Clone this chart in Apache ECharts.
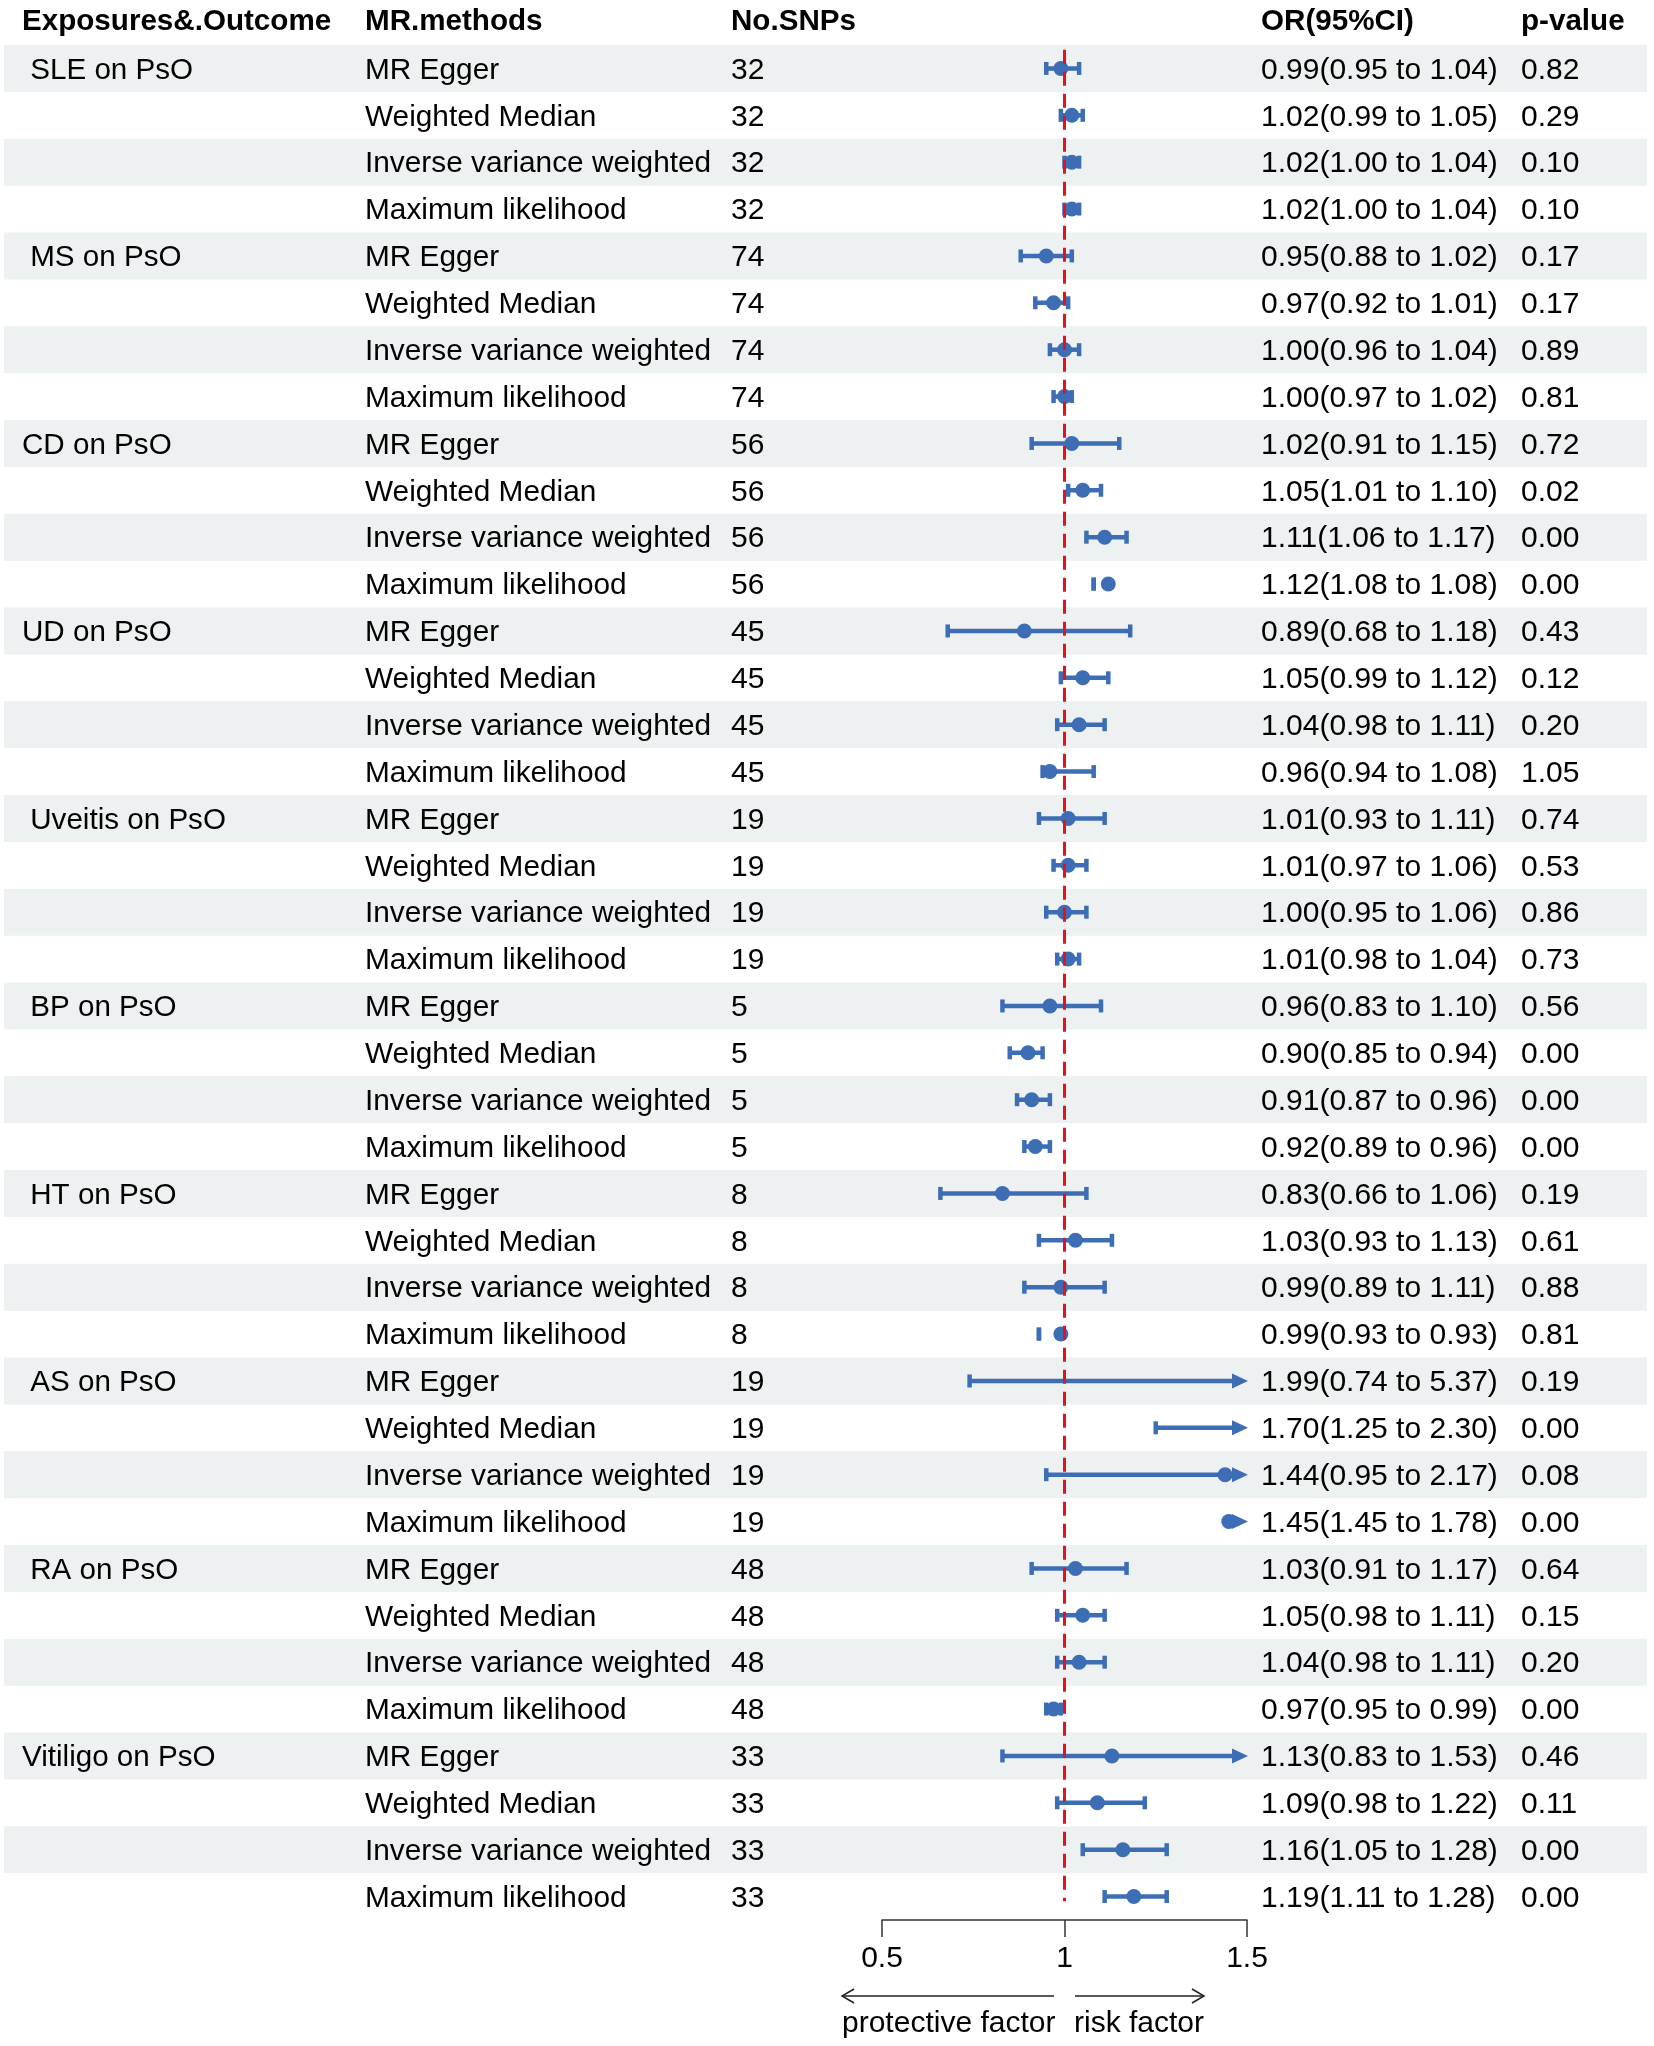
<!DOCTYPE html>
<html>
<head>
<meta charset="utf-8">
<title>MR forest plot</title>
<script src="https://cdn.jsdelivr.net/npm/echarts@6/dist/echarts.min.js"></script>
<style>
  html, body { margin: 0; padding: 0; background: #fff; }
  #main { width: 1654px; height: 2046px; }
</style>
</head>
<body>
<div id="main"></div>
<script>
// 数据
var exposures = [' SLE on PsO', ' MS on PsO', 'CD on PsO', 'UD on PsO', ' Uveitis on PsO',
                 ' BP on PsO', ' HT on PsO', ' AS on PsO', ' RA on PsO', 'Vitiligo on PsO'];
var methods = ['MR Egger', 'Weighted Median', 'Inverse variance weighted', 'Maximum likelihood'];
var nSnps = [32, 74, 56, 45, 19, 5, 8, 19, 48, 33];

var orVals = [0.99, 1.02, 1.02, 1.02,  0.95, 0.97, 1.00, 1.00,  1.02, 1.05, 1.11, 1.12,
              0.89, 1.05, 1.04, 0.96,  1.01, 1.01, 1.00, 1.01,  0.96, 0.90, 0.91, 0.92,
              0.83, 1.03, 0.99, 0.99,  1.99, 1.70, 1.44, 1.45,  1.03, 1.05, 1.04, 0.97,
              1.13, 1.09, 1.16, 1.19];
var loVals = [0.95, 0.99, 1.00, 1.00,  0.88, 0.92, 0.96, 0.97,  0.91, 1.01, 1.06, 1.08,
              0.68, 0.99, 0.98, 0.94,  0.93, 0.97, 0.95, 0.98,  0.83, 0.85, 0.87, 0.89,
              0.66, 0.93, 0.89, 0.93,  0.74, 1.25, 0.95, 1.45,  0.91, 0.98, 0.98, 0.95,
              0.83, 0.98, 1.05, 1.11];
var hiVals = [1.04, 1.05, 1.04, 1.04,  1.02, 1.01, 1.04, 1.02,  1.15, 1.10, 1.17, 1.08,
              1.18, 1.12, 1.11, 1.08,  1.11, 1.06, 1.06, 1.04,  1.10, 0.94, 0.96, 0.96,
              1.06, 1.13, 1.11, 0.93,  5.37, 2.30, 2.17, 1.78,  1.17, 1.11, 1.11, 0.99,
              1.53, 1.22, 1.28, 1.28];
var pVals = [0.82, 0.29, 0.10, 0.10,  0.17, 0.17, 0.89, 0.81,  0.72, 0.02, 0.00, 0.00,
             0.43, 0.12, 0.20, 1.05,  0.74, 0.53, 0.86, 0.73,  0.56, 0.00, 0.00, 0.00,
             0.19, 0.61, 0.88, 0.81,  0.19, 0.00, 0.08, 0.00,  0.64, 0.15, 0.20, 0.00,
             0.46, 0.11, 0.00, 0.00];
var xTicks = ['0.5', '1', '1.5'];

var FONT = '"Liberation Sans", Arial, Helvetica, sans-serif';
var BLUE = '#3d6db4';
var nRows = exposures.length * methods.length;
var xMin = 0.5, xMax = 1.5;

// 每行数据
var rows = [];
for (var i = 0; i < nRows; i++) {
  rows.push([i, orVals[i], loVals[i], hiVals[i]]);
}

function txt(x, y, s, size) {
  return {
    type: 'text',
    style: {
      x: x, y: y + 2, text: s, fill: '#000',
      font: size + 'px ' + FONT,
      align: 'left', verticalAlign: 'middle'
    }
  };
}

// 背景条纹和表格文字
function renderTable(params, api) {
  var i = api.value(0);
  var top = api.coord([0, i - 0.5])[1];
  var bot = api.coord([0, i + 0.5])[1];
  var y = api.coord([0, i])[1];
  var g = Math.floor(i / methods.length);
  var m = i % methods.length;
  var children = [];
  if (i % 2 === 0) {
    var x0 = api.coord([4, i])[0], x1 = api.coord([1647, i])[0];
    children.push({
      type: 'rect',
      shape: { x: x0, y: top, width: x1 - x0, height: bot - top },
      style: { fill: '#eef1f1' }
    });
  }
  if (m === 0) children.push(txt(api.coord([22, i])[0], y, exposures[g], 29.6));
  children.push(txt(api.coord([365, i])[0], y, methods[m], 29.8));
  children.push(txt(api.coord([731, i])[0], y, String(nSnps[g]), 30));
  children.push(txt(api.coord([1261, i])[0], y,
    orVals[i].toFixed(2) + '(' + loVals[i].toFixed(2) + ' to ' + hiVals[i].toFixed(2) + ')', 30));
  children.push(txt(api.coord([1521, i])[0], y, pVals[i].toFixed(2), 30));
  return { type: 'group', children: children };
}

// 置信区间
function renderCI(params, api) {
  var i = api.value(0), or = api.value(1), lo = api.value(2), hi = api.value(3);
  var y = api.coord([1, i])[1];
  var xl = api.coord([Math.max(lo, xMin), i])[0];
  var xr = api.coord([Math.min(hi, xMax), i])[0];
  var children = [];
  var lineEnd = hi > xMax ? xr - 14 : xr;
  var st = { stroke: BLUE, lineWidth: 4.5 };
  if (lineEnd > xl) {
    children.push({ type: 'line', shape: { x1: xl, y1: y, x2: lineEnd, y2: y }, style: st });
  }
  if (lo >= xMin) {
    children.push({ type: 'line', shape: { x1: xl, y1: y - 6.5, x2: xl, y2: y + 6.5 }, style: st });
  }
  if (hi <= xMax) {
    children.push({ type: 'line', shape: { x1: xr, y1: y - 6.5, x2: xr, y2: y + 6.5 }, style: st });
  } else {
    children.push({
      type: 'polygon',
      shape: { points: [[xr + 1, y], [xr - 15, y - 7.5], [xr - 15, y + 7.5]] },
      style: { fill: BLUE }
    });
  }
  if (or >= xMin && or <= xMax) {
    children.push({ type: 'circle', shape: { cx: api.coord([or, i])[0], cy: y, r: 7.5 }, style: { fill: BLUE } });
  }
  return { type: 'group', children: children };
}

var myChart = echarts.init(document.getElementById('main'));

var headFont = 'bold 29.6px ' + FONT;

var option = {
  animation: false,
  backgroundColor: '#fff',
  grid: [
    { left: 882, top: 45, width: 365, height: 1875 },
    { left: 0, top: 45, width: 1654, height: 1875 }
  ],
  xAxis: [
    {
      gridIndex: 0, type: 'value', min: xMin, max: xMax, interval: 0.5,
      splitLine: { show: false },
      axisLine: { show: true, onZero: false, lineStyle: { color: '#333', width: 1.5 } },
      axisTick: { show: true, length: 17, lineStyle: { color: '#333', width: 1.5 } },
      axisLabel: {
        fontSize: 30, fontFamily: FONT, color: '#000', margin: 24,
        formatter: function (v) { return xTicks[Math.round((v - xMin) / 0.5)]; }
      }
    },
    { gridIndex: 1, type: 'value', min: 0, max: 1654, show: false }
  ],
  yAxis: [
    { gridIndex: 0, type: 'value', inverse: true, min: -0.5, max: nRows - 0.5, show: false },
    { gridIndex: 1, type: 'value', inverse: true, min: -0.5, max: nRows - 0.5, show: false }
  ],
  graphic: [
    { type: 'text', left: 22, top: 7, style: { text: 'Exposures&.Outcome', font: headFont, fill: '#000' } },
    { type: 'text', left: 365, top: 7, style: { text: 'MR.methods', font: headFont, fill: '#000' } },
    { type: 'text', left: 731, top: 7, style: { text: 'No.SNPs', font: headFont, fill: '#000' } },
    { type: 'text', left: 1261, top: 7, style: { text: 'OR(95%CI)', font: headFont, fill: '#000' } },
    { type: 'text', left: 1521, top: 7, style: { text: 'p-value', font: headFont, fill: '#000' } },
    // 底部箭头
    { type: 'polyline', shape: { points: [[1054, 1996], [842, 1996]] }, style: { stroke: '#222', lineWidth: 1.5 } },
    { type: 'polyline', shape: { points: [[854, 1989], [842, 1996], [854, 2003]] }, style: { stroke: '#222', lineWidth: 1.5, fill: null } },
    { type: 'polyline', shape: { points: [[1075, 1996], [1204, 1996]] }, style: { stroke: '#222', lineWidth: 1.5 } },
    { type: 'polyline', shape: { points: [[1192, 1989], [1204, 1996], [1192, 2003]] }, style: { stroke: '#222', lineWidth: 1.5, fill: null } },
    { type: 'text', left: 842, top: 2009, style: { text: 'protective factor', font: '30px ' + FONT, fill: '#000' } },
    { type: 'text', left: 1074, top: 2009, style: { text: 'risk factor', font: '30px ' + FONT, fill: '#000' } }
  ],
  series: [
    {
      type: 'custom', xAxisIndex: 1, yAxisIndex: 1, z: 1, silent: true,
      renderItem: renderTable, data: rows.map(function (r) { return [r[0]]; })
    },
    {
      type: 'custom', xAxisIndex: 0, yAxisIndex: 0, z: 3, clip: false, silent: true,
      renderItem: renderCI, data: rows
    },
    {
      type: 'line', xAxisIndex: 0, yAxisIndex: 0, z: 5, silent: true,
      showSymbol: false, symbol: 'none',
      lineStyle: { color: '#e5121b', width: 3, type: [14, 8] },
      data: [[1, -0.4], [1, nRows - 0.9]]
    }
  ]
};

myChart.setOption(option);
</script>
</body>
</html>
